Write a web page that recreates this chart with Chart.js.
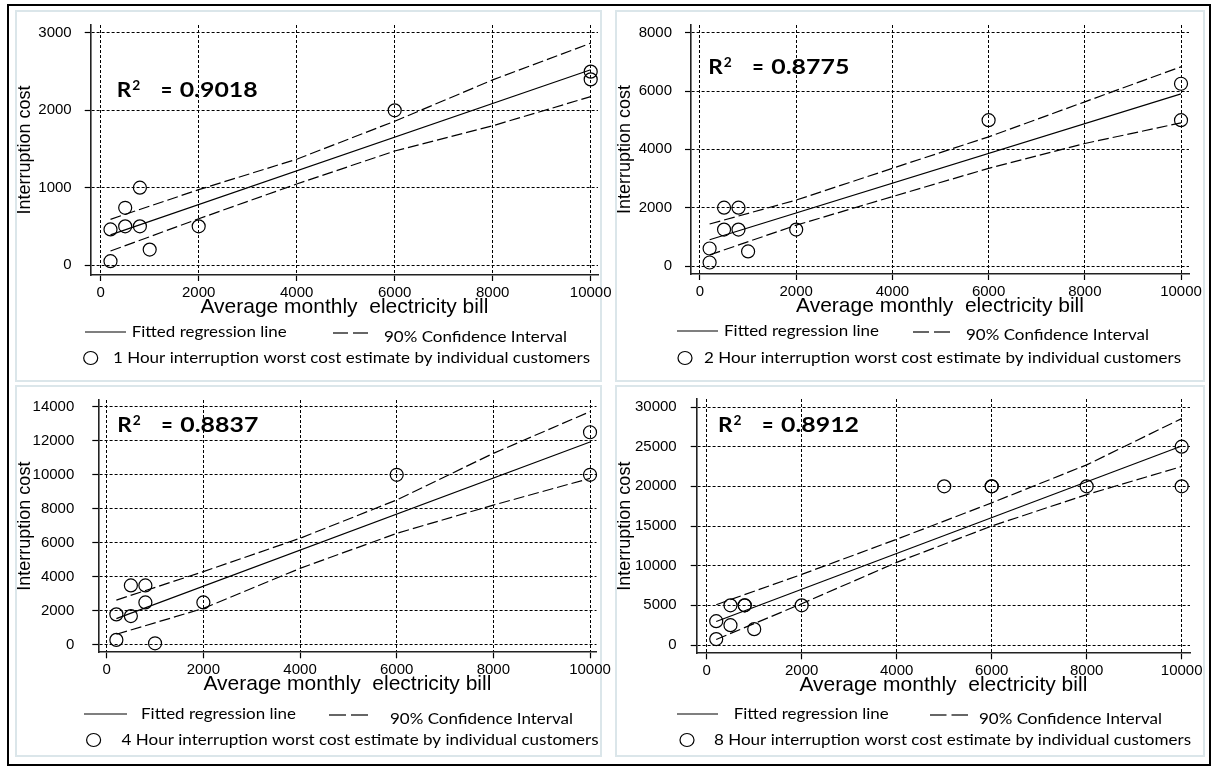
<!DOCTYPE html>
<html>
<head>
<meta charset="utf-8">
<script src="https://cdn.jsdelivr.net/npm/chart.js@4.4.0/dist/chart.umd.min.js"></script>
<style>
  body { margin: 0; background: #fff; }
  #page { position: relative; width: 1215px; height: 767px; overflow: hidden; background: #fff; }
  #frame { position: absolute; left: 7px; top: 4px; width: 1204px; height: 762px; border: 2px solid #000; box-sizing: border-box; }
  .panel { position: absolute; border: 2px solid #dbe6ea; box-sizing: border-box; }
  canvas { position: absolute; }
</style>
</head>
<body>
<div id="page"><div id="frame"></div></div>
<script>
// tick values
const xTicks = [0, 2000, 4000, 6000, 8000, 10000];
const yTicks1 = [0, 1000, 2000, 3000];
const yTicks2 = [0, 2000, 4000, 6000, 8000];
const yTicks3 = [0, 2000, 4000, 6000, 8000, 10000, 12000, 14000];
const yTicks4 = [0, 5000, 10000, 15000, 20000, 25000, 30000];

// 1 hour interruption
const bill1 = [200, 200, 500, 500, 800, 800, 1000, 2000, 6000, 10000, 10000];
const cost1 = [460, 50, 740, 500, 1000, 500, 200, 500, 2000, 2500, 2400];
// 2 hour interruption
const bill2 = [200, 200, 500, 500, 800, 800, 1000, 2000, 6000, 10000, 10000];
const cost2 = [600, 120, 2000, 1250, 2000, 1250, 500, 1250, 5000, 6250, 5000];
// 4 hour interruption
const bill3 = [200, 200, 500, 500, 800, 800, 1000, 2000, 6000, 10000, 10000];
const cost3 = [1800, 300, 3500, 1700, 3500, 2500, 100, 2500, 10000, 12500, 10000];
// 8 hour interruption
const bill4 = [200, 200, 500, 500, 800, 800, 1000, 2000, 5000, 6000, 6000, 8000, 10000, 10000];
const cost4 = [3000, 750, 5000, 2500, 5000, 5000, 2000, 5000, 20000, 20000, 20000, 20000, 25000, 20000];

// fitted regression line ends
const fitX = [200, 10000];
const fit1 = [390, 2525];
const fit2 = [900, 5900];
const fit3 = [1550, 11930];
const fit4 = [2960, 25080];

// 90% confidence band
const bandX = [200, 2000, 4000, 6000, 8000, 10000];
const upper1 = [591, 974, 1368, 1859, 2393, 2868];
const lower1 = [181, 598, 1047, 1474, 1800, 2177];
const upper2 = [1440, 2260, 3350, 4430, 5630, 6830];
const lower2 = [380, 1400, 2380, 3350, 4200, 4910];
const upper3 = [2640, 4310, 6270, 8520, 11260, 13710];
const lower3 = [630, 2150, 4500, 6560, 8220, 9790];
const upper4 = [5080, 8900, 13330, 17920, 22710, 28540];
const lower4 = [700, 5200, 10420, 15000, 18960, 22500];

const r2Values = ['0.9018', '0.8775', '0.8837', '0.8912'];
const hours = [1, 2, 4, 8];

const xTitle = 'Average monthly  electricity bill';
const yTitle = 'Interruption cost';
const legFit = 'Fitted regression line';
const legCI = '90% Confidence Interval';

// page geometry of each panel (box = left, top, width, height; area = left, top, right, bottom)
const panels = [
  { box: [15, 10, 587, 372], area: [90.7, 25, 598, 275], xr: [-204, 10149], yr: [-129, 3103], yPad: 13,
    yTicks: yTicks1, bill: bill1, cost: cost1, fit: fit1, up: upper1, lo: lower1,
    r2: [116.7, 96.7], leg: { solid: [85, 126, 332], t1: [131.7, 332], dash: [333, 368, 333], t2: [384, 337], circ: [90.7, 358], t3: [113, 358] } },
  { box: [615, 10, 590, 372], area: [691, 25, 1189, 274], xr: [-187, 10166], yr: [-274, 8264], yPad: 13,
    yTicks: yTicks2, bill: bill2, cost: cost2, fit: fit2, up: upper2, lo: lower2,
    r2: [708.3, 74], leg: { solid: [677, 718, 331], t1: [724, 331], dash: [913, 950, 332], t2: [966, 335], circ: [685, 358], t3: [704, 358] } },
  { box: [15, 385, 587, 372], area: [98.3, 400, 596.5, 652.3], xr: [-174, 10134], yr: [-429, 14394], yPad: 18,
    yTicks: yTicks3, bill: bill3, cost: cost3, fit: fit3, up: upper3, lo: lower3,
    r2: [117.3, 432.3], leg: { solid: [84, 127, 714], t1: [141, 714], dash: [329, 368, 715], t2: [390, 719], circ: [93.6, 740], t3: [121.6, 740] } },
  { box: [615, 385, 590, 372], area: [696.7, 399, 1190, 653.3], xr: [-211, 10175], yr: [-1046, 31009], yPad: 14,
    yTicks: yTicks4, bill: bill4, cost: cost4, fit: fit4, up: upper4, lo: lower4,
    r2: [718, 432], leg: { solid: [677, 718, 714], t1: [733.7, 714], dash: [930, 968, 715], t2: [979, 719], circ: [687, 740], t3: [714, 740] } }
];

function pts(xs, ys) {
  return xs.map((x, i) => ({ x: x, y: ys[i] }));
}

function seg(ctx, x1, y1, x2, y2) {
  ctx.beginPath();
  ctx.moveTo(x1, y1);
  ctx.lineTo(x2, y2);
  ctx.stroke();
}

// text stretched sideways to a given width (the source figure is wider than tall)
function wideText(ctx, text, x, y, width) {
  const sx = width / ctx.measureText(text).width;
  ctx.save();
  ctx.translate(x, y);
  ctx.scale(sx, 1);
  ctx.fillText(text, 0, 0);
  ctx.restore();
}

// R2 text and the legend under each plot
const annot = {
  id: 'annot',
  afterDraw(chart, args, o) {
    const ctx = chart.ctx;
    const ox = o.ox, oy = o.oy, L = o.leg;
    ctx.save();
    ctx.fillStyle = '#000';
    ctx.strokeStyle = '#000';
    ctx.textBaseline = 'alphabetic';
    const x = o.r2[0] - ox, y = o.r2[1] - oy;
    ctx.font = 'bold 21px Lato';
    wideText(ctx, 'R', x, y, 14.5);
    wideText(ctx, '=', x + 44, y, 11.5);
    wideText(ctx, o.r2text, x + 63, y, 78);
    ctx.font = 'bold 14px Lato';
    wideText(ctx, '2', x + 15.5, y - 7, 8);

    ctx.lineWidth = 1.2;
    seg(ctx, L.solid[0] - ox, L.solid[2] - oy, L.solid[1] - ox, L.solid[2] - oy);
    const mid = (L.dash[0] + L.dash[1]) / 2;
    seg(ctx, L.dash[0] - ox, L.dash[2] - oy, mid - 2.5 - ox, L.dash[2] - oy);
    seg(ctx, mid + 2.5 - ox, L.dash[2] - oy, L.dash[1] - ox, L.dash[2] - oy);
    ctx.beginPath();
    ctx.ellipse(L.circ[0] - ox, L.circ[1] - oy, 7, 6.5, 0, 0, Math.PI * 2);
    ctx.stroke();

    ctx.font = '16px Lato';
    ctx.textBaseline = 'middle';
    wideText(ctx, legFit, L.t1[0] - ox, L.t1[1] - oy, 155);
    wideText(ctx, legCI, L.t2[0] - ox, L.t2[1] - oy, 183);
    wideText(ctx, o.ptsText, L.t3[0] - ox, L.t3[1] - oy, 477);
    ctx.restore();
  }
};

const page = document.getElementById('page');

panels.forEach((p, i) => {
  const [ox, oy, w, h] = p.box;
  const frame = document.createElement('div');
  frame.className = 'panel';
  frame.style.left = ox + 'px';
  frame.style.top = oy + 'px';
  frame.style.width = w + 'px';
  frame.style.height = h + 'px';
  page.appendChild(frame);

  // canvas a little wider than the panel so the last tick label is not cut
  const cw = w + 12;
  const c = document.createElement('canvas');
  c.width = cw;
  c.height = h;
  c.style.left = ox + 'px';
  c.style.top = oy + 'px';
  page.appendChild(c);

  const xAxisH = 45;
  const sans = "'Liberation Sans', Arial, sans-serif";
  const tickFont = { family: sans, size: 15 };
  const grid = { color: '#000', lineWidth: 1, tickLength: 6, tickColor: '#000', tickWidth: 1.2, tickBorderDash: [] };
  const border = { display: true, color: '#222', width: 1.6, dash: [3, 2] };

  new Chart(c, {
    type: 'scatter',
    data: {
      datasets: [
        { data: pts(p.bill, p.cost), showLine: false, pointRadius: 6.5, pointHoverRadius: 6.5,
          pointBorderWidth: 1.2, borderColor: '#000', backgroundColor: 'rgba(0,0,0,0)', clip: false },
        { data: pts(fitX, p.fit), showLine: true, pointRadius: 0, borderWidth: 1.2, borderColor: '#000', fill: false },
        { data: pts(bandX, p.up), showLine: true, pointRadius: 0, borderWidth: 1.2, borderColor: '#000', borderDash: [11, 4], fill: false },
        { data: pts(bandX, p.lo), showLine: true, pointRadius: 0, borderWidth: 1.2, borderColor: '#000', borderDash: [11, 4], fill: false }
      ]
    },
    options: {
      responsive: false,
      animation: false,
      devicePixelRatio: 1,
      layout: {
        padding: {
          left: 0,
          top: p.area[1] - oy,
          right: ox + cw - p.area[2],
          bottom: oy + h - (p.area[3] + xAxisH)
        }
      },
      plugins: {
        legend: { display: false },
        tooltip: { enabled: false },
        annot: { ox: ox, oy: oy, r2: p.r2, r2text: r2Values[i], leg: p.leg,
                 ptsText: hours[i] + ' Hour interruption worst cost estimate by individual customers' }
      },
      scales: {
        x: {
          type: 'linear', min: p.xr[0], max: p.xr[1],
          afterBuildTicks: s => { s.ticks = xTicks.map(v => ({ value: v })); },
          afterFit: s => { s.height = xAxisH; s.paddingLeft = 0; s.paddingRight = 0; },
          ticks: { callback: v => String(v), color: '#000', font: tickFont, padding: 3, maxRotation: 0, autoSkip: false },
          grid: grid,
          border: border,
          title: { display: true, text: xTitle, color: '#000', font: { family: sans, size: 21 }, padding: 0 }
        },
        y: {
          type: 'linear', min: p.yr[0], max: p.yr[1],
          afterBuildTicks: s => { s.ticks = p.yTicks.map(v => ({ value: v })); },
          afterFit: s => { s.width = p.area[0] - ox; s.paddingTop = 0; s.paddingBottom = 0; },
          ticks: { callback: v => String(v), color: '#000', font: tickFont, padding: p.yPad, autoSkip: false },
          grid: grid,
          border: border,
          title: { display: true, text: yTitle, color: '#000', font: { family: sans, size: 18, lineHeight: 1.1 }, padding: 0 }
        }
      }
    },
    plugins: [annot]
  });
});
</script>
</body>
</html>
